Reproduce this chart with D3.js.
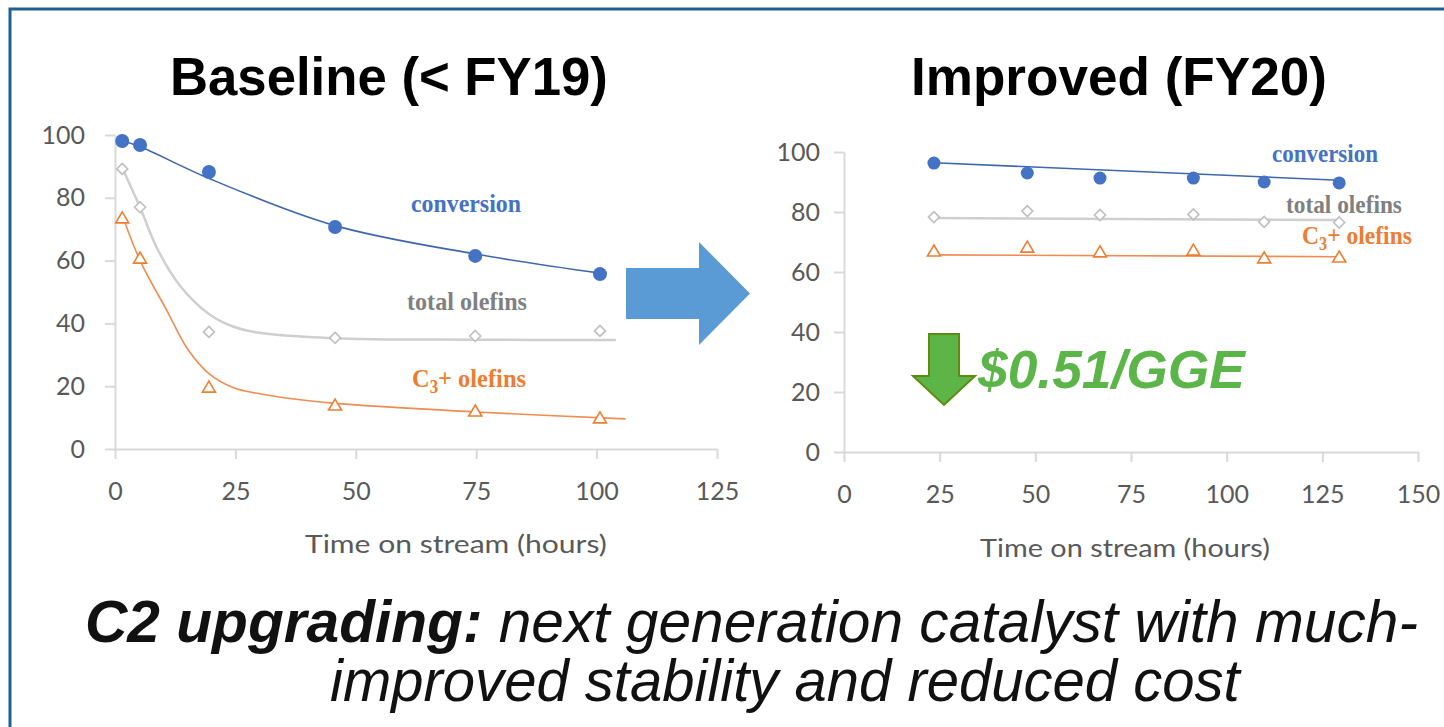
<!DOCTYPE html>
<html><head><meta charset="utf-8">
<script src="https://cdn.jsdelivr.net/npm/d3@7"></script>
<style>body{margin:0;background:#fff} svg{display:block}</style>
</head><body><svg id="c" width="1444" height="727"></svg>
<script>
// ---------- Baseline (< FY19) ----------
const baseTime = [1.5, 5.2, 19.5, 45.7, 74.8, 100.7];
const baseConversion = [98.1, 96.8, 88.2, 70.7, 61.5, 55.7];
const baseTotalOlefins = [89.2, 77.0, 37.3, 35.4, 36.0, 37.6];
const baseC3Olefins = [73.6, 60.8, 19.7, 14.0, 12.1, 9.9];
// trend curves [time, value]
const baseConvTrend = [[1, 98.3], [5, 96.4], [19.3, 86.3], [45.3, 71.3], [74.8, 62.1], [100.7, 56.0]];
const baseTotalTrend = [[1.5, 89.5], [5.2, 77], [8.7, 64], [13.5, 52], [19.5, 43], [24.5, 39], [30, 37], [45, 35.3], [75, 34.8], [104, 34.7]];
const baseC3Trend = [[1.5, 74.5], [5.2, 60], [10.8, 44], [15, 32], [19.5, 24], [24.5, 19.6], [31.5, 17.2], [45.3, 14.6], [75, 11.8], [106, 9.6]];
const baseXTicks = [0, 25, 50, 75, 100, 125];
const baseYTicks = [0, 20, 40, 60, 80, 100];

// ---------- Improved (FY20) ----------
const impTime = [23.5, 47.9, 66.9, 91.3, 109.8, 129.4];
const impConversion = [96.3, 93.0, 91.3, 91.3, 90.0, 89.7];
const impTotalOlefins = [78.3, 80.3, 79.0, 79.2, 76.7, 76.5];
const impC3Olefins = [67.0, 68.3, 66.7, 67.3, 64.7, 65.0];
const impConvTrend = [[23.5, 96.4], [129.4, 90.6]];
const impTotalTrend = [[23.5, 78.0], [129.4, 77.3]];
const impC3Trend = [[23.5, 65.7], [129.4, 65.1]];
const impXTicks = [0, 25, 50, 75, 100, 125, 150];
const impYTicks = [0, 20, 40, 60, 80, 100];

const titles = ["Baseline (< FY19)", "Improved (FY20)"];
const axisTitle = "Time on stream (hours)";
const costLabel = "$0.51/GGE";

const COL = {conv: "#4472C4", total: "#BFBFBF", c3: "#ED7D31", axis: "#D9D9D9", tick: "#595959"};

const svg = d3.select("#c");

function fit(sel, left, baseline, width, sy) {
  const len = sel.node().getComputedTextLength();
  sel.attr("x", 0).attr("y", 0).attr("text-anchor", "start")
     .attr("transform", `translate(${left},${baseline}) scale(${width / len},${sy || 1})`);
  return sel;
}

// border
svg.append("path").attr("d", "M10,727 L10,9 L1444,9").attr("fill", "none")
  .attr("stroke", "#1F5E94").attr("stroke-width", 3);

function chart(cfg) {
  const {x, y, xTicks, yTicks, time, conv, total, c3, convT, totalT, c3T, r, yPad} = cfg;
  const g = svg.append("g");
  const ya = g.append("g").attr("transform", `translate(${x.range()[0]},0)`)
    .call(d3.axisLeft(y).tickValues(yTicks).tickSize(10).tickSizeOuter(0).tickPadding(yPad));
  const xa = g.append("g").attr("transform", `translate(0,${y.range()[0]})`)
    .call(d3.axisBottom(x).tickValues(xTicks).tickSize(10).tickSizeOuter(0).tickPadding(23));
  [ya, xa].forEach(a => {
    a.select(".domain").attr("stroke", COL.axis).attr("stroke-width", 2);
    a.selectAll(".tick line").attr("stroke", COL.axis).attr("stroke-width", 2);
    a.selectAll(".tick text").attr("fill", COL.tick).attr("font-family", "Lato, sans-serif")
      .attr("font-size", 25);
  });
  const line = d3.line().x(d => x(d[0])).y(d => y(d[1])).curve(d3.curveCatmullRom.alpha(0.5));
  g.append("path").datum(totalT).attr("d", line).attr("fill", "none").attr("stroke", "#CFCFCF").attr("stroke-width", 2.5);
  g.append("path").datum(c3T).attr("d", line).attr("fill", "none").attr("stroke", "#EF8C52").attr("stroke-width", 1.6);
  g.append("path").datum(convT).attr("d", line).attr("fill", "none").attr("stroke", "#3F66B0").attr("stroke-width", 1.6);
  g.selectAll(".dia").data(time).join("path")
    .attr("d", (t, i) => { const cx = x(t), cy = y(total[i]), s = 5.5; return `M${cx},${cy - s}L${cx + s},${cy}L${cx},${cy + s}L${cx - s},${cy}Z`; })
    .attr("fill", "#fff").attr("stroke", COL.total).attr("stroke-width", 1.6);
  g.selectAll(".tri").data(time).join("path")
    .attr("d", (t, i) => { const cx = x(t), cy = y(c3[i]); return `M${cx},${cy - 6}L${cx + 6.5},${cy + 5}L${cx - 6.5},${cy + 5}Z`; })
    .attr("fill", "#fff").attr("stroke", COL.c3).attr("stroke-width", 1.6);
  g.selectAll(".dot").data(time).join("circle")
    .attr("cx", t => x(t)).attr("cy", (t, i) => y(conv[i])).attr("r", r).attr("fill", COL.conv);
  return g;
}

const xL = d3.scaleLinear([0, 125], [115, 717]);
const yL = d3.scaleLinear([0, 100], [449, 135]);
const xR = d3.scaleLinear([0, 150], [844, 1418]);
const yR = d3.scaleLinear([0, 100], [452, 152]);

chart({x: xL, y: yL, xTicks: baseXTicks, yTicks: baseYTicks, time: baseTime, conv: baseConversion,
  total: baseTotalOlefins, c3: baseC3Olefins, convT: baseConvTrend, totalT: baseTotalTrend, c3T: baseC3Trend, r: 7, yPad: 20});
chart({x: xR, y: yR, xTicks: impXTicks, yTicks: impYTicks, time: impTime, conv: impConversion,
  total: impTotalOlefins, c3: impC3Olefins, convT: impConvTrend, totalT: impTotalTrend, c3T: impC3Trend, r: 6.5, yPad: 14});

function seriesLabels(pos) {
  const f = "'Liberation Serif', 'Times New Roman', serif";
  const t1 = svg.append("text").attr("font-family", f).attr("font-weight", "bold").attr("font-size", 26)
    .attr("fill", COL.conv).text("conversion");
  fit(t1, pos[0][0], pos[0][1], pos[0][2]);
  const t2 = svg.append("text").attr("font-family", f).attr("font-weight", "bold").attr("font-size", 26)
    .attr("fill", "#808080").text("total olefins");
  fit(t2, pos[1][0], pos[1][1], pos[1][2]);
  const t3 = svg.append("text").attr("font-family", f).attr("font-weight", "bold").attr("font-size", 26)
    .attr("fill", COL.c3);
  t3.append("tspan").text("C");
  t3.append("tspan").attr("font-size", 18).attr("dy", 6).text("3");
  t3.append("tspan").attr("dy", -6).text("+ olefins");
  fit(t3, pos[2][0], pos[2][1], pos[2][2]);
}
seriesLabels([[411, 212, 110], [407, 310, 120], [412, 387, 114]]);
seriesLabels([[1272, 162, 106], [1286, 213, 116], [1302, 244, 110]]);

const tf = "'Liberation Sans', Arial, sans-serif";
fit(svg.append("text").attr("font-family", tf).attr("font-weight", "bold").attr("font-size", 54).attr("fill", "#000").text(titles[0]), 170, 95, 438);
fit(svg.append("text").attr("font-family", tf).attr("font-weight", "bold").attr("font-size", 54).attr("fill", "#000").text(titles[1]), 911, 95, 416);

fit(svg.append("text").attr("font-family", "Lato, sans-serif").attr("font-size", 25).attr("fill", COL.tick).text(axisTitle), 305, 553, 302);
fit(svg.append("text").attr("font-family", "Lato, sans-serif").attr("font-size", 25).attr("fill", COL.tick).text(axisTitle), 980, 557, 290);

svg.append("path").attr("d", "M626,268L699,268L699,242L750,293.5L699,345L699,319L626,319Z").attr("fill", "#5B9BD5");

svg.append("path").attr("d", "M929,334L959,334L959,376L975,376L944,405L913,376L929,376Z")
  .attr("fill", "#5DB547").attr("stroke", "#5E8C0F").attr("stroke-width", 2);
fit(svg.append("text").attr("font-family", tf).attr("font-weight", "bold").attr("font-style", "italic")
  .attr("font-size", 54).attr("fill", "#5BB548").text(costLabel), 978, 388, 267);

const c1 = svg.append("text").attr("font-family", tf).attr("font-style", "italic").attr("font-size", 56).attr("fill", "#111");
c1.append("tspan").attr("font-weight", "bold").text("C2 upgrading:");
c1.append("tspan").text(" next generation catalyst with much-");
fit(c1, 85, 642, 1333, 1.05);
const c2 = svg.append("text").attr("font-family", tf).attr("font-style", "italic").attr("font-size", 56).attr("fill", "#111")
  .text("improved stability and reduced cost");
fit(c2, 330, 701, 910, 1.05);
</script>
</body></html>
